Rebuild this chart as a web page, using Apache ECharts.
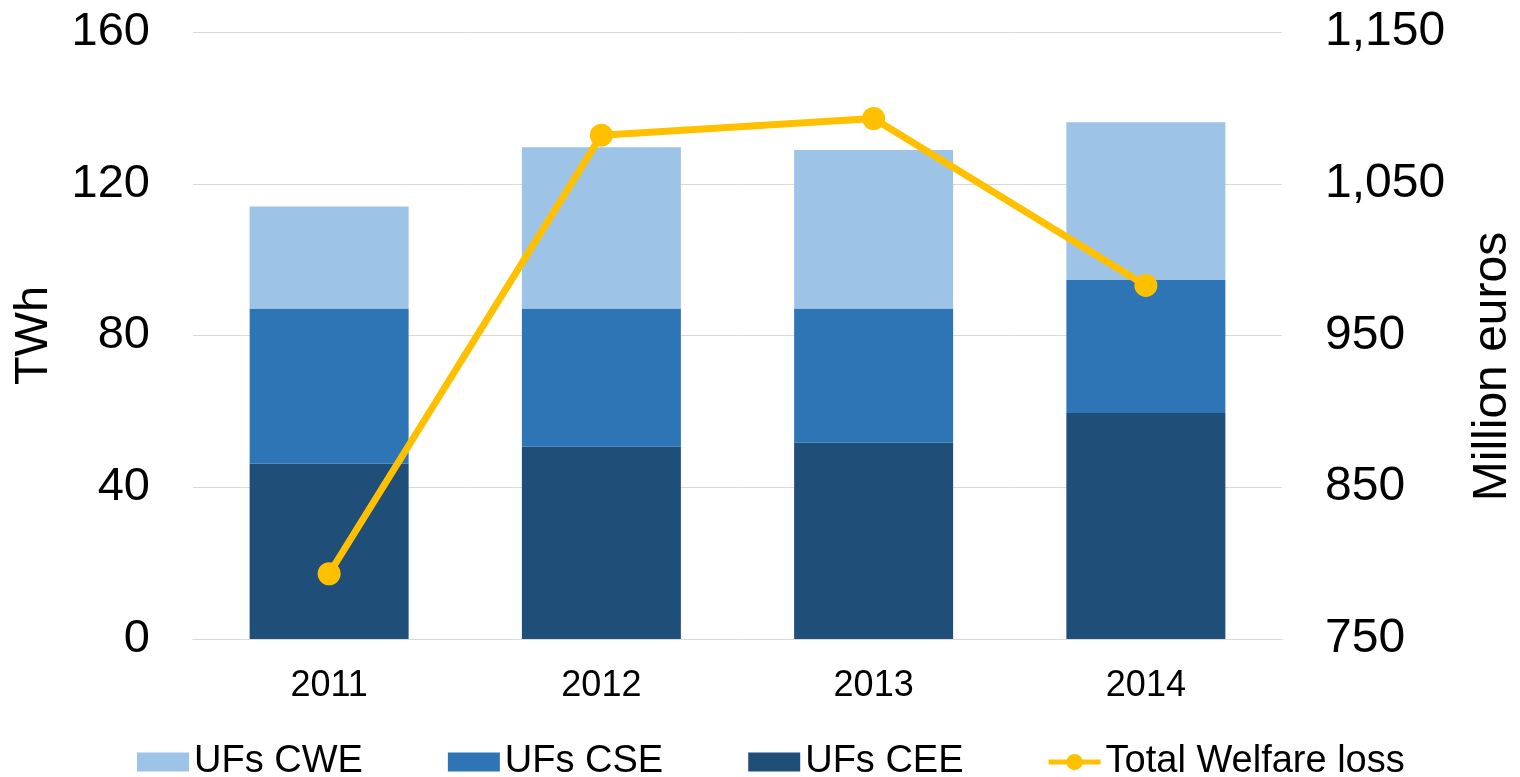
<!DOCTYPE html>
<html>
<head>
<meta charset="utf-8">
<script src="https://cdn.jsdelivr.net/npm/echarts@6/dist/echarts.min.js"></script>
<style>
  html, body { margin: 0; padding: 0; background: #fff; }
  #chart { width: 1520px; height: 777px; }
</style>
</head>
<body>
<div id="chart"></div>
<script>
  const years = ['2011', '2012', '2013', '2014']
  // TWh, stacked bottom to top: CEE, CSE, CWE
  const ufsCEE = [46.2, 50.7, 51.7, 59.6]
  const ufsCSE = [40.9, 36.4, 35.4, 35.0]
  const ufsCWE = [26.9, 42.5, 41.8, 41.6]
  // million euros, right axis
  const welfareLoss = [793, 1082, 1093, 983]
  const leftTicks = [0, 40, 80, 120, 160]
  const rightTicks = [750, 850, 950, 1050, 1150]

  const font = "'Liberation Sans', Arial, sans-serif"
  const chart = echarts.init(document.getElementById('chart'))

  // legend marker for the line: thick stroke with a dot in the middle
  const lineIcon = 'path://M0,6.5h61v6h-61z M30.5,0a9.5,9.5,0,1,1,0,19a9.5,9.5,0,1,1,0,-19z'

  const options = {
    animation: false,
    textStyle: { fontFamily: font },
    grid: { left: 193, right: 238, top: 32, bottom: 138, outerBoundsMode: 'none', containLabel: false },
    legend: {
      left: 132,
      top: 738,
      itemWidth: 52,
      itemHeight: 19,
      itemGap: 85,
      textStyle: { fontSize: 38, color: '#000', fontFamily: font },
      data: [
        { name: 'UFs CWE', icon: 'rect' },
        { name: 'UFs CSE', icon: 'rect' },
        { name: 'UFs CEE', icon: 'rect' },
        { name: 'Total Welfare loss', icon: lineIcon }
      ]
    },
    xAxis: {
      type: 'category',
      data: years,
      axisLine: { show: true, lineStyle: { color: '#D9D9D9', width: 1 } },
      axisTick: { show: false },
      axisLabel: { fontSize: 36, color: '#000', margin: 29 }
    },
    yAxis: [
      {
        type: 'value',
        min: leftTicks[0],
        max: leftTicks[leftTicks.length - 1],
        interval: leftTicks[1] - leftTicks[0],
        name: 'TWh',
        nameLocation: 'middle',
        nameRotate: 90,
        nameGap: 159,
        nameTextStyle: { fontSize: 47, color: '#000', verticalAlign: 'middle' },
        axisLine: { show: false },
        axisTick: { show: false },
        axisLabel: { fontSize: 47, color: '#000', margin: 43 },
        splitLine: { lineStyle: { color: '#D9D9D9', width: 1 } }
      },
      {
        type: 'value',
        min: rightTicks[0],
        max: rightTicks[rightTicks.length - 1],
        interval: rightTicks[1] - rightTicks[0],
        position: 'right',
        name: 'Million euros',
        nameLocation: 'middle',
        nameRotate: 90,
        nameGap: 211,
        nameTextStyle: { fontSize: 48, color: '#000', verticalAlign: 'middle', padding: [0, 62, 0, 0] },
        axisLine: { show: false },
        axisTick: { show: false },
        axisLabel: {
          fontSize: 48, color: '#000', margin: 43,
          formatter: v => v.toLocaleString('en-US')
        },
        splitLine: { show: false }
      }
    ],
    series: [
      {
        name: 'UFs CEE', type: 'bar', stack: 'uf', barWidth: '58.4%',
        itemStyle: { color: '#1F4E79' }, data: ufsCEE
      },
      {
        name: 'UFs CSE', type: 'bar', stack: 'uf', barWidth: '58.4%',
        itemStyle: { color: '#2E75B6' }, data: ufsCSE
      },
      {
        name: 'UFs CWE', type: 'bar', stack: 'uf', barWidth: '58.4%',
        itemStyle: { color: '#9DC3E6' }, data: ufsCWE
      },
      {
        name: 'Total Welfare loss', type: 'line', yAxisIndex: 1,
        symbol: 'circle', symbolSize: 23, z: 5,
        lineStyle: { color: '#FFC000', width: 7 },
        itemStyle: { color: '#FFC000' },
        data: welfareLoss
      }
    ]
  }
  chart.setOption(options)
</script>
</body>
</html>
